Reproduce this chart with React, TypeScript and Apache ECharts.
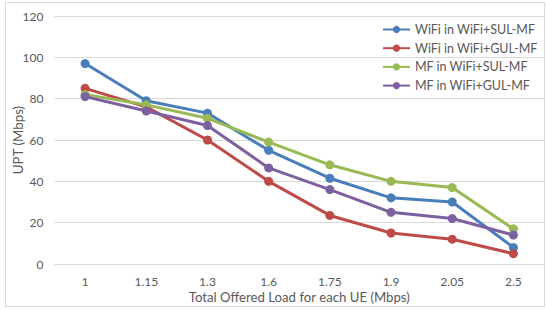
import React, { useEffect, useRef } from "react";
import * as echarts from "echarts";

const categories = ["1", "1.15", "1.3", "1.6", "1.75", "1.9", "2.05", "2.5"];
const wifiSul = [97, 79, 73, 55, 41.5, 32, 30, 8];
const wifiGul = [85, 76, 60, 40, 23.5, 15, 12, 5];
const mfSul = [82, 77, 70.5, 59, 48, 40, 37, 17];
const mfGul = [81, 74, 67, 46.5, 36, 25, 22, 14];
const seriesNames = [
  "WiFi in WiFi+SUL-MF",
  "WiFi in WiFi+GUL-MF",
  "MF in WiFi+SUL-MF",
  "MF in WiFi+GUL-MF",
];
const colors = ["#4a7ebb", "#be4b48", "#98b954", "#7d60a0"];

export default function App() {
  const ref = useRef<HTMLDivElement>(null);
  useEffect(() => {
    if (!ref.current) return;
    const chart = echarts.init(ref.current, null, { renderer: "svg" });
    const datas = [wifiSul, wifiGul, mfSul, mfGul];
    chart.setOption({
      animation: false,
      backgroundColor: "#fff",
      textStyle: { fontFamily: "Lato" },
      graphic: [
        {
          type: "rect",
          shape: { x: 5.5, y: 2.5, width: 539, height: 304 },
          style: { fill: "none", stroke: "#d9d9d9", lineWidth: 1 },
          silent: true,
        },
      ],
      grid: {
        left: 54.5,
        right: 3,
        top: 16,
        bottom: 46,
        containLabel: false,
        outerBoundsMode: "none",
      },
      legend: {
        orient: "vertical",
        left: 377,
        top: 18,
        itemWidth: 27,
        itemHeight: 9,
        itemGap: 5.7,
        textStyle: { color: "#595959", fontSize: 12.5, fontFamily: "Lato" },
        data: seriesNames,
      },
      xAxis: {
        type: "category",
        data: categories,
        boundaryGap: true,
        axisLine: { lineStyle: { color: "#d9d9d9" } },
        axisTick: { show: false },
        axisLabel: { color: "#595959", fontSize: 12, margin: 12, lineHeight: 11 },
        name: "Total Offered Load for each UE (Mbps)",
        nameLocation: "middle",
        nameGap: 26,
        nameMoveOverlap: false,
        nameTextStyle: { color: "#595959", fontSize: 13.2, lineHeight: 13 },
      },
      yAxis: {
        type: "value",
        min: 0,
        max: 120,
        interval: 20,
        axisLine: { show: false },
        axisTick: { show: false },
        splitLine: { lineStyle: { color: "#d9d9d9" } },
        axisLabel: { color: "#595959", fontSize: 12, margin: 11 },
        name: "UPT (Mbps)",
        nameLocation: "middle",
        nameGap: 30,
        nameMoveOverlap: false,
        nameTextStyle: { color: "#595959", fontSize: 13.3 },
      },
      series: datas.map((d, i) => ({
        name: seriesNames[i],
        type: "line",
        data: d,
        symbol: "circle",
        symbolSize: 9,
        color: colors[i],
        lineStyle: { width: 3, color: colors[i] },
        itemStyle: { color: colors[i] },
      })),
    });
    return () => chart.dispose();
  }, []);
  return (
    <div
      ref={ref}
      style={{ position: "fixed", left: 0, top: 0, width: 547, height: 310 }}
    />
  );
}
